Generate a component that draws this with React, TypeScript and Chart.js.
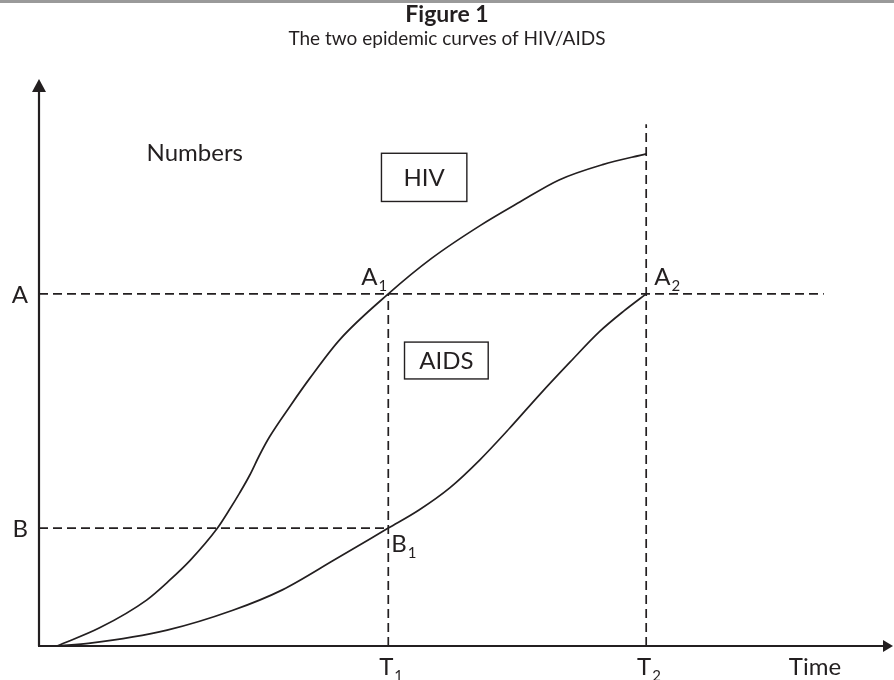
import React, { useEffect, useRef } from "react";
import { Chart, registerables } from "chart.js";

Chart.register(...registerables);

// ---- data (x: time units 0..100, y: numbers 0..100) ----
const T1 = 40.9;
const T2 = 71.1;
const A_LEVEL = 62.1;
const B_LEVEL = 20.8;
const A_LINE_END = 91.9;
const T2_TOP = 92;

const hivX = [2.1, 7.1, 12.6, 15.3, 17.7, 20.9, 22.2, 23.5, 24.7, 25.8, 27.0, 29.4, 31.7, 35.2, 40.9, 46.0, 51.6, 56.3, 60.9, 66.0, 71.1];
const hivY = [0, 3.2, 8.1, 11.6, 15.1, 20.8, 23.8, 27.0, 30.2, 33.6, 36.9, 42.3, 47.2, 54.0, 62.1, 68.4, 74.1, 78.3, 82.2, 84.9, 86.8];

const aidsX = [2.1, 6.0, 15.0, 22.7, 28.5, 34.6, 40.9, 44.5, 48.1, 51.6, 55.1, 58.6, 62.2, 65.6, 68.5, 71.1];
const aidsY = [0, 0.5, 2.8, 6.3, 9.9, 15.2, 20.8, 24.0, 27.9, 32.8, 38.4, 44.3, 50.1, 55.4, 59.1, 62.1];

const yTickLabels = ["A", "B"];
const xTickLabels = ["T", "T"];
const xTickSubs = ["1", "2"];
const pointLabels = ["A", "A", "B"];
const pointSubs = ["1", "2", "1"];

const TITLE = "Figure 1";
const SUBTITLE = "The two epidemic curves of HIV/AIDS";
const Y_TITLE = "Numbers";
const X_TITLE = "Time";
const BOX_HIV = "HIV";
const BOX_AIDS = "AIDS";
// box extents in data units: [x0, x1, yTop, yBottom]
const hivBox = [40.1, 50.1, 86.9, 78.4];
const aidsBox = [42.8, 52.6, 53.6, 47.1];
const numbersPos = [12.6, 86.9];
const timePos = [87.8];

const FONT = "Lato, 'Open Sans', sans-serif";
const INK = "#231f20";

const zip = (xs: number[], ys: number[]) => xs.map((x, i) => ({ x, y: ys[i] }));

export default function App() {
  const ref = useRef<HTMLCanvasElement | null>(null);

  useEffect(() => {
    document.body.style.margin = "0";
    const canvas = ref.current;
    if (!canvas) return;

    const dashed = {
      borderColor: INK,
      borderWidth: 1.7,
      borderDash: [9, 5],
      pointRadius: 0,
      showLine: true,
      fill: false,
    };

    const decor = {
      id: "decor",
      afterDraw(chart: any) {
        const ctx = chart.ctx as CanvasRenderingContext2D;
        const xs = chart.scales.x;
        const ys = chart.scales.y;
        const ca = chart.chartArea;
        const px = (v: number) => xs.getPixelForValue(v);
        const py = (v: number) => ys.getPixelForValue(v);
        ctx.save();

        // top grey rule
        ctx.fillStyle = "#9a9a9a";
        ctx.fillRect(0, 0, chart.width, 3);

        // titles
        ctx.fillStyle = INK;
        ctx.textAlign = "center";
        ctx.textBaseline = "alphabetic";
        ctx.font = `bold 23px ${FONT}`;
        ctx.fillText(TITLE, chart.width / 2, 22);
        ctx.font = `19px ${FONT}`;
        ctx.fillText(SUBTITLE, chart.width / 2, 45);

        // axes
        const x0 = ca.left;
        const y0 = ca.bottom;
        ctx.strokeStyle = INK;
        ctx.lineWidth = 2.2;
        ctx.beginPath();
        ctx.moveTo(x0, y0);
        ctx.lineTo(x0, ca.top + 12);
        ctx.moveTo(x0 - 1, y0);
        ctx.lineTo(ca.right - 8, y0);
        ctx.stroke();
        ctx.fillStyle = INK;
        ctx.beginPath();
        ctx.moveTo(x0, ca.top);
        ctx.lineTo(x0 - 7, ca.top + 13);
        ctx.lineTo(x0 + 7, ca.top + 13);
        ctx.closePath();
        ctx.fill();
        ctx.beginPath();
        ctx.moveTo(ca.right, y0);
        ctx.lineTo(ca.right - 10, y0 - 6);
        ctx.lineTo(ca.right - 10, y0 + 6);
        ctx.closePath();
        ctx.fill();

        const big = `24px ${FONT}`;
        const small = `15px ${FONT}`;
        const withSub = (main: string, sub: string, x: number, yb: number, align: "left" | "center") => {
          ctx.font = big;
          const w = ctx.measureText(main).width;
          const left = align === "center" ? x - w / 2 : x;
          ctx.textAlign = "left";
          ctx.fillText(main, left, yb);
          ctx.font = small;
          ctx.fillText(sub, left + w + 1, yb + 6);
        };

        // y tick labels
        ctx.font = big;
        ctx.textAlign = "right";
        ctx.textBaseline = "middle";
        ctx.fillText(yTickLabels[0], x0 - 11, py(A_LEVEL) + 1);
        ctx.fillText(yTickLabels[1], x0 - 11, py(B_LEVEL) + 1);
        ctx.textBaseline = "alphabetic";

        // x tick labels
        withSub(xTickLabels[0], xTickSubs[0], px(T1) - 2, y0 + 29, "center");
        withSub(xTickLabels[1], xTickSubs[1], px(T2) - 2, y0 + 29, "center");

        // point labels
        withSub(pointLabels[0], pointSubs[0], px(T1) - 27, py(A_LEVEL) - 9, "left");
        withSub(pointLabels[1], pointSubs[1], px(T2) + 8, py(A_LEVEL) - 9, "left");
        withSub(pointLabels[2], pointSubs[2], px(T1) + 3, py(B_LEVEL) + 24, "left");

        // axis titles
        ctx.font = big;
        ctx.textAlign = "left";
        ctx.fillText(X_TITLE, px(timePos[0]), y0 + 29);
        ctx.textBaseline = "middle";
        ctx.fillText(Y_TITLE, px(numbersPos[0]), py(numbersPos[1]));

        // boxes
        const box = (b: number[], label: string) => {
          const l = px(b[0]);
          const r = px(b[1]);
          const t = py(b[2]);
          const bt = py(b[3]);
          ctx.lineWidth = 1.4;
          ctx.strokeRect(l, t, r - l, bt - t);
          ctx.textAlign = "center";
          ctx.textBaseline = "middle";
          ctx.font = big;
          ctx.fillText(label, (l + r) / 2, (t + bt) / 2 + 1);
        };
        box(hivBox, BOX_HIV);
        box(aidsBox, BOX_AIDS);

        ctx.restore();
      },
    };

    const curve = (label: string, xs: number[], ys: number[]) => ({
      label,
      data: zip(xs, ys),
      borderColor: INK,
      borderWidth: 1.7,
      pointRadius: 0,
      showLine: true,
      cubicInterpolationMode: "monotone",
      fill: false,
    });

    const chart = new Chart(canvas, {
      type: "scatter",
      data: {
        datasets: [
          curve("HIV", hivX, hivY),
          curve("AIDS", aidsX, aidsY),
          { label: "A", data: [{ x: 0, y: A_LEVEL }, { x: A_LINE_END, y: A_LEVEL }], ...dashed },
          { label: "B", data: [{ x: 0, y: B_LEVEL }, { x: T1, y: B_LEVEL }], ...dashed },
          { label: "T1", data: [{ x: T1, y: 0 }, { x: T1, y: A_LEVEL }], ...dashed },
          { label: "T2", data: [{ x: T2, y: 0 }, { x: T2, y: T2_TOP }], ...dashed },
        ] as any,
      },
      options: {
        animation: false,
        responsive: false,
        maintainAspectRatio: false,
        layout: { padding: { left: 39, right: 1, top: 79, bottom: 34 } },
        plugins: { legend: { display: false }, tooltip: { enabled: false }, title: { display: false } },
        scales: {
          x: { type: "linear", min: 0, max: 100, display: false },
          y: { type: "linear", min: 0, max: 100, display: false },
        },
      },
      plugins: [decor],
    });

    return () => chart.destroy();
  }, []);

  return (
    <div style={{ width: 894, height: 680, background: "#fff" }}>
      <canvas ref={ref} width={894} height={680} style={{ display: "block" }} />
    </div>
  );
}
